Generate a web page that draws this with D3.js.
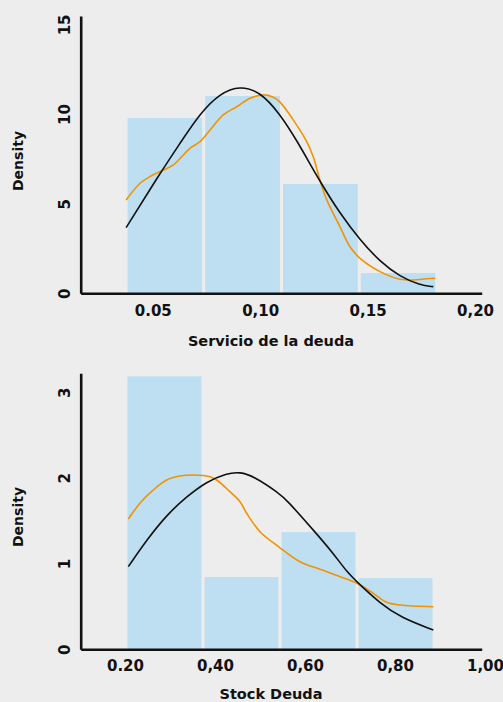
<!DOCTYPE html>
<html>
<head>
<meta charset="utf-8">
<script src="https://cdn.jsdelivr.net/npm/d3@7"></script>
<style>
  html, body { margin: 0; padding: 0; background: #ededed; }
  svg { display: block; }
</style>
</head>
<body>
<div id="chart"></div>
<script>
// ---- Panel 1: Servicio de la deuda ----
const debtServiceBins = [0.0376, 0.0737, 0.1099, 0.1461, 0.1822];
const debtServiceDensity = [9.78, 11.01, 6.10, 1.13];
const debtServiceNormalX = [0.0376, 0.0534, 0.0627, 0.0720, 0.0813, 0.0906, 0.0999, 0.1090, 0.1170, 0.1278, 0.1371, 0.1465, 0.1558, 0.1651, 0.1744, 0.1806];
const debtServiceNormalY = [3.66, 6.70, 8.37, 10.04, 11.16, 11.58, 11.25, 10.04, 8.55, 6.23, 4.46, 2.97, 1.76, 0.93, 0.45, 0.37];
const debtServiceKdeX = [0.0376, 0.0441, 0.0487, 0.0534, 0.0596, 0.0673, 0.0720, 0.0767, 0.0828, 0.0891, 0.0953, 0.1015, 0.1061, 0.1090, 0.1213, 0.1247, 0.1278, 0.1310, 0.1371, 0.1418, 0.1465, 0.1558, 0.1651, 0.1713, 0.1775, 0.1815];
const debtServiceKdeY = [5.21, 6.14, 6.51, 6.79, 7.16, 8.09, 8.46, 9.11, 9.95, 10.41, 10.88, 11.07, 10.94, 10.69, 8.55, 7.62, 6.32, 5.21, 3.72, 2.60, 1.95, 1.21, 0.78, 0.74, 0.81, 0.84];
const debtServiceXTicks = [0.05, 0.10, 0.15, 0.20];
const debtServiceXLabels = ["0.05", "0,10", "0,15", "0,20"];
const debtServiceYTicks = [0, 5, 10, 15];

// ---- Panel 2: Stock Deuda ----
const debtStockBins = [0.2022, 0.3733, 0.5444, 0.7156, 0.8867];
const debtStockDensity = [3.185, 0.843, 1.367, 0.831];
const debtStockNormalX = [0.2074, 0.2482, 0.2926, 0.3370, 0.3815, 0.4259, 0.4556, 0.4852, 0.5430, 0.5593, 0.6185, 0.6630, 0.6926, 0.7185, 0.7667, 0.8130, 0.8852];
const debtStockNormalY = [0.964, 1.275, 1.567, 1.781, 1.956, 2.054, 2.069, 2.022, 1.820, 1.742, 1.392, 1.120, 0.905, 0.770, 0.537, 0.370, 0.225];
const debtStockKdeX = [0.2074, 0.2333, 0.2630, 0.2926, 0.3222, 0.3519, 0.3889, 0.4037, 0.4333, 0.4556, 0.4704, 0.5000, 0.5430, 0.5889, 0.6333, 0.6778, 0.7185, 0.7519, 0.7815, 0.8111, 0.8852];
const debtStockKdeY = [1.520, 1.704, 1.859, 1.975, 2.022, 2.034, 2.014, 1.975, 1.839, 1.722, 1.587, 1.372, 1.190, 1.022, 0.933, 0.847, 0.762, 0.653, 0.548, 0.517, 0.497];
const debtStockXTicks = [0.2, 0.4, 0.6, 0.8, 1.0];
const debtStockXLabels = ["0.20", "0,40", "0,60", "0,80", "1,00"];
const debtStockYTicks = [0, 1, 2, 3];

const width = 503, height = 702;
const font = "'DejaVu Sans', sans-serif";

const svg = d3.select("#chart").append("svg")
  .attr("width", width)
  .attr("height", height)
  .style("background", "#ededed");

function drawPanel(cfg) {
  const x = d3.scaleLinear().domain(cfg.xDomain).range([80.7, 481.7]);
  const y = d3.scaleLinear().domain(cfg.yDomain).range([cfg.bottom, cfg.top]);
  const g = svg.append("g");

  // histogram bars
  const bars = cfg.density.map((d, i) => ({ x0: cfg.bins[i], x1: cfg.bins[i + 1], d }));
  g.selectAll("rect.bar")
    .data(bars)
    .join("rect")
    .attr("class", "bar")
    .attr("x", b => x(b.x0) + 1.5)
    .attr("width", b => x(b.x1) - x(b.x0) - 3)
    .attr("y", b => y(b.d))
    .attr("height", b => y(0) - y(b.d))
    .attr("fill", "#bedff2");

  // kde (orange) follows its wiggles, normal (black) is smoothed
  const kdeLine = d3.line()
    .x(p => x(p[0]))
    .y(p => y(p[1]))
    .curve(d3.curveCatmullRom.alpha(0.5));
  const normLine = d3.line()
    .x(p => x(p[0]))
    .y(p => y(p[1]))
    .curve(d3.curveBasis);

  g.append("path")
    .datum(d3.zip(cfg.kdeX, cfg.kdeY))
    .attr("fill", "none")
    .attr("stroke", "#f39200")
    .attr("stroke-width", 1.6)
    .attr("d", kdeLine);

  g.append("path")
    .datum(d3.zip(cfg.normX, cfg.normY))
    .attr("fill", "none")
    .attr("stroke", "#111")
    .attr("stroke-width", 1.6)
    .attr("d", normLine);

  // x axis
  const xAxis = g.append("g")
    .attr("transform", `translate(0,${cfg.bottom})`)
    .call(d3.axisBottom(x).tickValues(cfg.xTicks)
      .tickFormat((d, i) => cfg.xLabels[i])
      .tickSize(0).tickSizeOuter(0).tickPadding(0));
  xAxis.selectAll("text")
    .attr("dy", null)
    .attr("y", cfg.xLabelBase - cfg.bottom)
    .attr("fill", "#111")
    .style("font-family", font)
    .style("font-weight", "bold")
    .style("font-size", "15px");

  // y axis
  const yAxis = g.append("g")
    .attr("transform", "translate(80.7,0)")
    .call(d3.axisLeft(y).tickValues(cfg.yTicks).tickFormat(d3.format("d"))
      .tickSize(0).tickSizeOuter(0));
  yAxis.selectAll("text")
    .attr("dy", null)
    .attr("x", 0)
    .attr("y", -10.5)
    .attr("transform", "rotate(-90)")
    .attr("text-anchor", "middle")
    .attr("fill", "#111")
    .style("font-family", font)
    .style("font-weight", "bold")
    .style("font-size", "15px");

  g.selectAll(".domain")
    .attr("stroke", "#111")
    .attr("stroke-width", 2.6);

  // axis titles
  g.append("text")
    .attr("x", 271)
    .attr("y", cfg.titleBase)
    .attr("text-anchor", "middle")
    .style("font-family", font)
    .style("font-weight", "bold")
    .style("font-size", "14.5px")
    .attr("fill", "#111")
    .text(cfg.xTitle);

  g.append("text")
    .attr("transform", `translate(23,${cfg.densityMid}) rotate(-90)`)
    .attr("text-anchor", "middle")
    .style("font-family", font)
    .style("font-weight", "bold")
    .style("font-size", "14px")
    .attr("fill", "#111")
    .text("Density");
}

drawPanel({
  xDomain: [0.01647, 0.2031], yDomain: [0, 15.47],
  top: 16, bottom: 293.3,
  bins: debtServiceBins, density: debtServiceDensity,
  normX: debtServiceNormalX, normY: debtServiceNormalY,
  kdeX: debtServiceKdeX, kdeY: debtServiceKdeY,
  xTicks: debtServiceXTicks, xLabels: debtServiceXLabels, yTicks: debtServiceYTicks,
  xLabelBase: 316, titleBase: 345.5, densityMid: 161,
  xTitle: "Servicio de la deuda"
});

drawPanel({
  xDomain: [0.1016, 0.9927], yDomain: [0, 3.22],
  top: 373.3, bottom: 649.3,
  bins: debtStockBins, density: debtStockDensity,
  normX: debtStockNormalX, normY: debtStockNormalY,
  kdeX: debtStockKdeX, kdeY: debtStockKdeY,
  xTicks: debtStockXTicks, xLabels: debtStockXLabels, yTicks: debtStockYTicks,
  xLabelBase: 671, titleBase: 699, densityMid: 517,
  xTitle: "Stock Deuda"
});
</script>
</body>
</html>
